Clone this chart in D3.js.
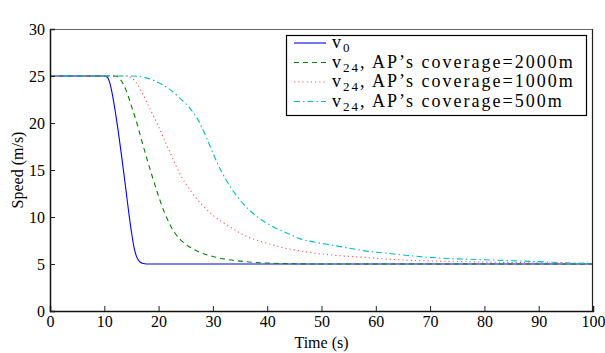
<!DOCTYPE html>
<html><head><meta charset="utf-8">
<script src="https://cdn.jsdelivr.net/npm/d3@7"></script>
<style>
body{margin:0;background:#fff;}
svg text{font-family:"Liberation Serif";fill:#000;}
</style></head>
<body><svg id="c" width="605" height="353"></svg>
<script>
const xTicks = [0,10,20,30,40,50,60,70,80,90,100];
const yTicks = [0,5,10,15,20,25,30];
const tV0 =   [0,10,10.5,11,11.5,12,12.5,13,13.5,14,14.5,15,15.5,16,16.5,17,17.5,18,100];
const vV0 =   [25,25,24.9,24.3,23.0,21.3,19.4,17.3,15.1,12.8,10.5,8.4,6.7,5.7,5.25,5.08,5.02,5,5];
const t2000 = [0,12,13,14,15,16,17,18,19,20,21,22,23,24,25,27,30,33,36,40,45,50,100];
const v2000 = [25,25,24.6,23.5,21.8,20,17.9,15.9,14.0,12.2,10.6,9.3,8.3,7.6,7.1,6.4,5.8,5.45,5.25,5.1,5.03,5,5];
const t1000 = [0,14,15,16,17,18,19,20,21,22,23,24,26,28,30,33,36,40,44,47,52,58,64,70,76,83,90,100];
const v1000 = [25,25,24.8,24.2,23.2,22.0,20.8,19.6,18.3,17.0,15.7,14.5,12.7,11.3,10.2,9.0,8.0,7.2,6.6,6.3,5.95,5.7,5.45,5.33,5.25,5.18,5.12,5.06];
const t500 =  [0,15,17,19.6,22,24,26,27,28,29,30,31,33,35,38,41,44,46,49,52,55,58,62,66,70,75,80,85,90,95,100];
const v500 =  [25,25,24.9,24.4,23.6,22.6,21.4,20.6,19.5,18.2,16.8,15.5,13.4,11.8,10.1,9.0,8.2,7.7,7.3,7.0,6.7,6.4,6.15,5.9,5.7,5.55,5.45,5.35,5.25,5.12,5.05];
const labels = ["v0","v24, AP’s coverage=2000m","v24, AP’s coverage=1000m","v24, AP’s coverage=500m"];
const colors = ["#0000ff","#008000","#ff5050","#00bfbf"];
const dashes = [null,"5,4","1.2,3","6,3,1.5,3"];

const series = [[tV0,vV0],[t2000,v2000],[t1000,v1000],[t500,v500]];
const svg = d3.select("#c");
const L=50,R=593,T=29,B=311;
const FONT = "Liberation Serif";
const x = d3.scaleLinear().domain([0,100]).range([L,R]);
const y = d3.scaleLinear().domain([0,30]).range([B,T]);

const line = d3.line().x(d=>x(d[0])).y(d=>y(d[1])).curve(d3.curveMonotoneX);
series.forEach((s,i)=>{
  const pts = s[0].map((t,j)=>[t,s[1][j]]);
  svg.append("path").attr("d",line(pts)).attr("fill","none")
    .attr("stroke",colors[i]).attr("stroke-width",1.1)
    .attr("stroke-dasharray",dashes[i]);
});

// box
svg.append("line").attr("x1",L).attr("x2",R).attr("y1",T+0.5).attr("y2",T+0.5).attr("stroke","#666").attr("stroke-width",1.2);
svg.append("line").attr("x1",R-0.5).attr("x2",R-0.5).attr("y1",T).attr("y2",B).attr("stroke","#222").attr("stroke-width",1.2);

const xa = svg.append("g").attr("transform",`translate(0,${B})`)
  .call(d3.axisBottom(x).tickValues(xTicks).tickSize(-5).tickPadding(5).tickFormat(d3.format("d")));
const ya = svg.append("g").attr("transform",`translate(${L},0)`)
  .call(d3.axisLeft(y).tickValues(yTicks).tickSize(-5).tickPadding(5).tickFormat(d3.format("d")));
[xa,ya].forEach(a=>{
  a.attr("font-family",FONT).attr("font-size",16);
  a.select(".domain").attr("stroke","#111").attr("stroke-width",1.5);
  a.selectAll(".tick line").attr("stroke","#222");
  a.selectAll("text").attr("font-family",FONT).attr("font-size",16).attr("fill","#000");
});

svg.append("text").attr("x",(L+R)/2).attr("y",348).attr("text-anchor","middle")
  .attr("font-family",FONT).attr("font-size",16).text("Time (s)");
svg.append("text").attr("transform",`translate(23,${(T+B)/2}) rotate(-90)`).attr("text-anchor","middle")
  .attr("font-family",FONT).attr("font-size",16).text("Speed (m/s)");

// legend
const lg = svg.append("g");
lg.append("rect").attr("x",286.5).attr("y",35.5).attr("width",300).attr("height",80)
  .attr("fill","#fff").attr("stroke","#000").attr("stroke-width",1.2);
labels.forEach((lab,i)=>{
  const cy = 43 + i*19.5;
  lg.append("line").attr("x1",294).attr("x2",326).attr("y1",cy).attr("y2",cy)
    .attr("stroke",colors[i]).attr("stroke-width",1.1).attr("stroke-dasharray",dashes[i]);
  const tx = lg.append("text").attr("x",332).attr("y",cy+5)
    .attr("font-family",FONT).attr("font-size",18).style("letter-spacing","2px");
  const m = lab.match(/^v(\d+)(.*)$/);
  tx.append("tspan").text("v");
  tx.append("tspan").attr("dy",4).attr("font-size",13).text(m[1]);
  if(m[2]) tx.append("tspan").attr("dy",-4).text(m[2]);
});
</script></body></html>
